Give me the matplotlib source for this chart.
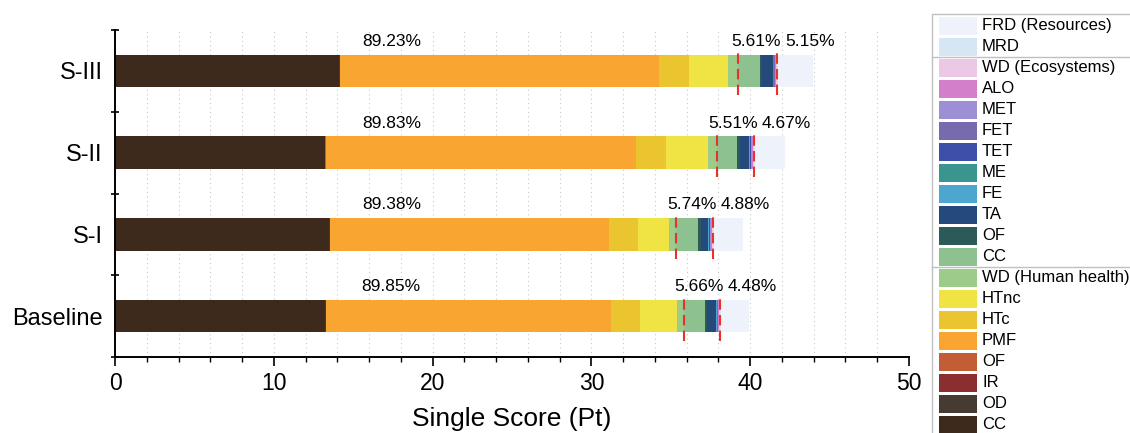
import matplotlib
matplotlib.use("Agg")
import matplotlib.pyplot as plt
from matplotlib.patches import Rectangle
from matplotlib.ticker import MultipleLocator
import numpy as np

plt.rcParams['font.family'] = ['Liberation Sans', 'DejaVu Sans']

scenarios = ["Baseline", "S-I", "S-II", "S-III"]

# impact categories, in stacking order (left to right)
categories = ["CC", "OD", "IR", "OF", "PMF", "HTc", "HTnc", "WD (Human health)",
              "CC", "OF", "TA", "FE", "ME", "TET", "FET", "MET", "ALO", "WD (Ecosystems)",
              "MRD", "FRD (Resources)"]
groups = ["hh"] * 8 + ["eco"] * 10 + ["res"] * 2
colors = ["#3d2a1d", "#463a33", "#8a2e30", "#c25d35", "#f8a531", "#eac530", "#f0e444", "#9ccb8a",
          "#8dc190", "#2b5a58", "#244a7c", "#4ba7d0", "#3a9490", "#3d4fa8", "#776aaf", "#9c8fd6",
          "#d47fca", "#edc7e6", "#d6e6f4", "#eef3fb"]

# single scores (Pt) per category, one list per scenario
baseline = [13.24, 0.02, 0.01, 0.03, 17.93, 1.83, 2.35, 0.44,
            1.30, 0.15, 0.55, 0.03, 0.02, 0.04, 0.02, 0.02, 0.04, 0.05,
            0.08, 1.79]
s_1 = [13.50, 0.02, 0.01, 0.03, 17.57, 1.82, 1.94, 0.46,
       1.38, 0.17, 0.46, 0.03, 0.02, 0.05, 0.03, 0.03, 0.05, 0.06,
       0.09, 1.85]
s_2 = [13.20, 0.02, 0.01, 0.03, 19.57, 1.87, 2.64, 0.58,
       1.27, 0.17, 0.58, 0.03, 0.02, 0.05, 0.03, 0.03, 0.05, 0.07,
       0.10, 1.87]
s_3 = [14.12, 0.02, 0.01, 0.03, 20.08, 1.91, 2.45, 0.60,
       1.37, 0.16, 0.67, 0.03, 0.02, 0.05, 0.03, 0.03, 0.05, 0.05,
       0.10, 2.15]

hh_pct = ["89.85%", "89.38%", "89.83%", "89.23%"]
eco_pct = ["5.66%", "5.74%", "5.51%", "5.61%"]
res_pct = ["4.48%", "4.88%", "4.67%", "5.15%"]

data = np.array([baseline, s_1, s_2, s_3])
y = np.arange(len(scenarios))

fig = plt.figure(figsize=(11.3, 4.33), dpi=100)
ax = fig.add_axes([115 / 1130, 76 / 433, 794 / 1130, 327 / 433])

left = np.zeros(len(scenarios))
for j in range(len(categories)):
    ax.barh(y, data[:, j], left=left, height=0.4, color=colors[j], zorder=2)
    left = left + data[:, j]

# group boundaries -> red dashed lines
g = np.array(groups)
hh_end = data[:, g == "hh"].sum(axis=1)
eco_end = hh_end + data[:, g == "eco"].sum(axis=1)
for i in range(len(scenarios)):
    for xb in (hh_end[i], eco_end[i]):
        ax.plot([xb, xb], [y[i] - 0.3, y[i] + 0.26], color="#e8312a", lw=1.5,
                linestyle=(0, (5, 2.5)), zorder=3)
    ax.annotate(hh_pct[i], (17.4, y[i] + 0.2), xytext=(0, 4), textcoords="offset points",
                ha="center", va="bottom", fontsize=12.5)
    ax.annotate(eco_pct[i], (eco_end[i], y[i] + 0.2), xytext=(3, 4), textcoords="offset points",
                ha="right", va="bottom", fontsize=12.5)
    ax.annotate(res_pct[i], (eco_end[i], y[i] + 0.2), xytext=(6, 4), textcoords="offset points",
                ha="left", va="bottom", fontsize=12.5)

ax.set_xlim(0, 50)
ax.set_ylim(-0.5, 3.5)
ax.xaxis.set_major_locator(MultipleLocator(10))
ax.xaxis.set_minor_locator(MultipleLocator(2))
ax.grid(axis="x", which="both", linestyle=(0, (1, 3)), color="#c8c8c8", lw=0.8, zorder=0)
ax.set_axisbelow(True)

ax.set_yticks(y)
ax.set_yticklabels(scenarios, fontsize=17)
ax.set_yticks(np.arange(-0.5, 4, 1), minor=True)
ax.tick_params(axis="y", which="major", length=0, pad=9)
ax.tick_params(axis="y", which="minor", direction="inout", length=6, width=1.2)
ax.tick_params(axis="x", which="major", direction="out", length=6.5, width=1.2, labelsize=16.5, pad=4)
ax.tick_params(axis="x", which="minor", direction="out", length=3.8, width=1.0)
ax.set_xlabel("Single Score (Pt)", fontsize=19, labelpad=9)

for s in ["top", "right"]:
    ax.spines[s].set_visible(False)
for s in ["left", "bottom"]:
    ax.spines[s].set_linewidth(1.4)

# legend drawn by hand (pixel coordinates), reversed stacking order
lax = fig.add_axes([0, 0, 1, 1], zorder=5)
lax.set_xlim(0, 1130)
lax.set_ylim(433, 0)
lax.axis("off")
lax.add_patch(Rectangle((932, 14), 300, 500, facecolor="white", edgecolor="#c0c0c0", lw=1))
order = list(range(len(categories)))[::-1]
pitch = 21.0
for r, j in enumerate(order):
    yc = 25.8 + r * pitch
    lax.add_patch(Rectangle((939, yc - 9), 38, 18, facecolor=colors[j], edgecolor="none"))
    lax.text(982, yc, categories[j], fontsize=12, va="center", ha="left")
    if r > 0 and groups[j] != groups[order[r - 1]]:
        lax.plot([932, 1130], [yc - pitch / 2, yc - pitch / 2], color="#c0c0c0", lw=1)

fig.savefig("out.png", dpi=100)
